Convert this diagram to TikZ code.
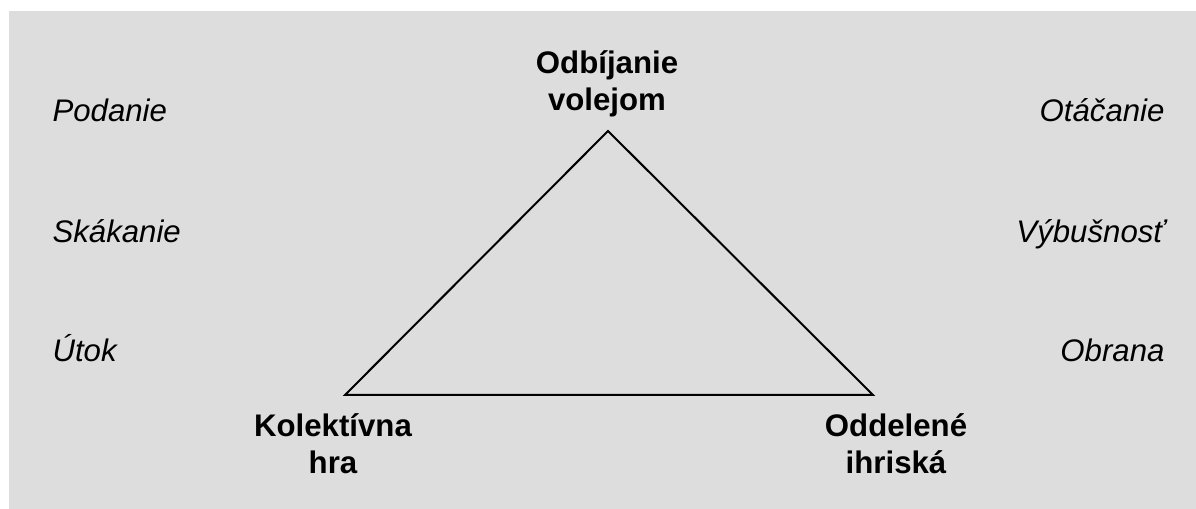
\documentclass[tikz,border=0pt]{standalone}
\usepackage{fontspec}
\setmainfont{Liberation Sans}
\tikzset{every picture/.style={line width=0.75pt}}
\tikzset{
  side/.style={font=\fontsize{23.4}{28}\selectfont\itshape, inner sep=0pt},
  corner/.style={font=\fontsize{23.4}{27.75}\selectfont\bfseries, align=center}
}

\begin{document}
\begin{tikzpicture}[x=0.75pt,y=0.75pt,yscale=-1,xscale=1]
\useasboundingbox (0,0) rectangle (1196,509);

%Shape: Rectangle [id:background]
\draw  [draw opacity=0][fill={rgb, 255:red, 221; green, 221; blue, 221 }  ,fill opacity=1 ] (9,11) -- (1196,11) -- (1196,509) -- (9,509) -- cycle ;

%Triangle corners
\coordinate (top) at (608,131);
\coordinate (left) at (345,395);
\coordinate (right) at (873,395);
%Shape: Triangle [id:triangle]
\draw [line width=1.5]  (top) -- (right) -- (left) -- cycle ;

% Text Node
\draw (52,122) node [side, anchor=base west] (podanie) {Podanie};
% Text Node
\draw (52,243) node [side, anchor=base west] (skakanie) {Skákanie};
% Text Node
\draw (52,362) node [side, anchor=base west] (utok) {Útok};
% Text Node
\draw (1165,122) node [side, anchor=base east] (otacanie) {Otáčanie};
% Text Node
\draw (1165,243) node [side, anchor=base east] (vybusnost) {Výbušnosť};
% Text Node
\draw (1165,362) node [side, anchor=base east] (obrana) {Obrana};
% Text Node
\draw (607,84) node [corner] (volej) {Odbíjanie\\volejom};
% Text Node
\draw (333,444) node [corner] (kolektiv) {Kolektívna\\hra};
% Text Node
\draw (896,444) node [corner] (ihriska) {Oddelené\\ihriská};

\end{tikzpicture}
\end{document}
